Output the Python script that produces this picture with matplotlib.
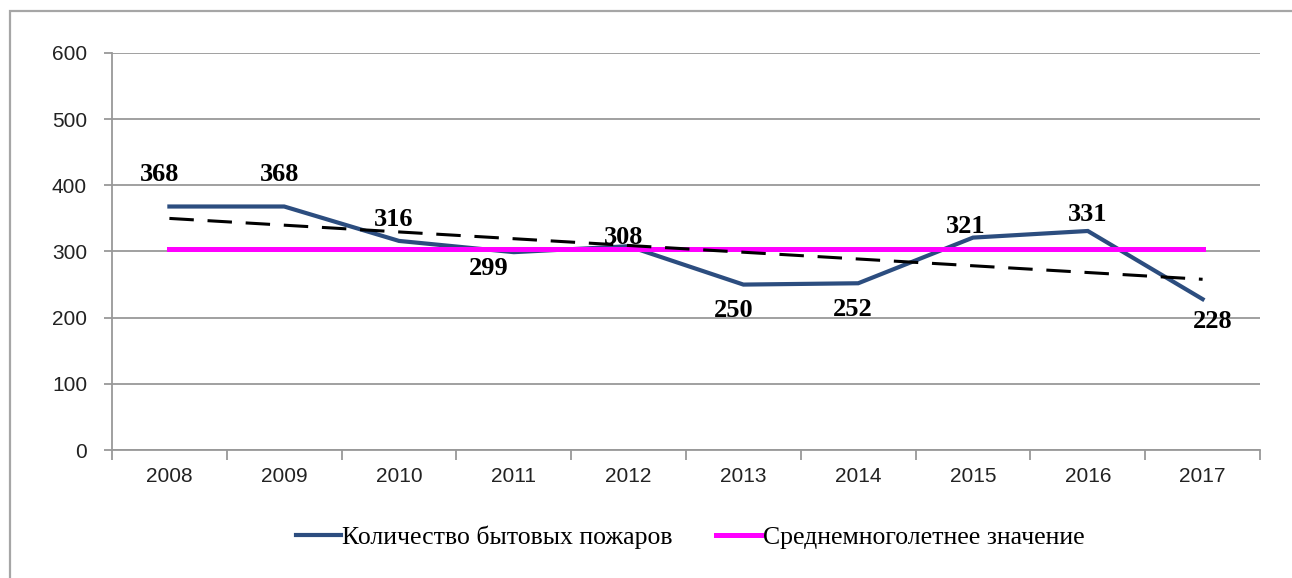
import matplotlib
matplotlib.use('Agg')
import matplotlib.pyplot as plt
from matplotlib.patches import Rectangle

years = ['2008', '2009', '2010', '2011', '2012', '2013', '2014', '2015', '2016', '2017']
fires = [368, 368, 316, 299, 308, 250, 252, 321, 331, 228]
mean_value = [304] * 10
# trend line ends
trend = [350, 258]

# label offsets in pixels (dx, dy)
offs = [(-10, 32), (-5, 32), (-5, 21), (-25, -16), (-5, 9),
        (-10, -26), (-5, -26), (-7, 11), (0, 16), (10, -22)]

W, H = 1292, 578
fig = plt.figure(figsize=(W / 100, H / 100), dpi=100)
fig.patches.append(Rectangle((10 / W, -0.1), 1.2, 1.1 - 11 / H, transform=fig.transFigure,
                             fill=False, edgecolor='#a6a6a6', lw=1.6))

ax = fig.add_axes([112 / W, (H - 450) / H, (1260 - 112) / W, (450 - 53) / H])
x = list(range(len(years)))

ax.plot(x, fires, color='#2c4d7f', lw=3.0, zorder=3, solid_joinstyle='miter',
        label='Количество бытовых пожаров')
ax.plot(x, mean_value, color='#ff00ff', lw=3.6, zorder=4, label='Среднемноголетнее значение')
ax.plot([x[0], x[-1]], trend, color='black', lw=2.2, dashes=(8, 4.5), zorder=5)

for xi, v, (dx, dy) in zip(x, fires, offs):
    ax.annotate(str(v), (xi, v), xytext=(dx * 0.72, dy * 0.72), textcoords='offset points',
                ha='center', va='center', fontsize=19, fontweight='bold',
                family='Liberation Serif', zorder=6)

ax.set_xlim(-0.5, 9.5)
ax.set_ylim(0, 600)
ax.set_yticks(range(0, 601, 100))
ax.grid(axis='y', color='#999999', lw=1.3)
ax.set_axisbelow(True)

ax.set_xticks([i - 0.5 for i in range(11)])
ax.set_xticklabels([])
ax.set_xticks(x, minor=True)
ax.set_xticklabels(years, minor=True)
ax.tick_params(axis='x', which='major', length=7, width=1.3, color='#999999', direction='out')
ax.tick_params(axis='x', which='minor', length=0, pad=12)
ax.tick_params(axis='y', length=6, width=1.3, color='#999999', pad=12)
for lab in ax.get_xticklabels(minor=True) + ax.get_yticklabels():
    lab.set_family('Liberation Sans')
    lab.set_fontsize(15)
    lab.set_color('#222222')

for s in ['top', 'right']:
    ax.spines[s].set_visible(False)
for s in ['left', 'bottom']:
    ax.spines[s].set_color('#999999')
    ax.spines[s].set_linewidth(1.3)

fig.legend(loc='center', bbox_to_anchor=(690 / W, 1 - 537 / H), ncol=2, frameon=False,
           prop={'family': 'Liberation Serif', 'size': 18.5}, handlelength=1.75,
           handletextpad=0.05, columnspacing=1.7)

fig.savefig('out.png', dpi=100)
